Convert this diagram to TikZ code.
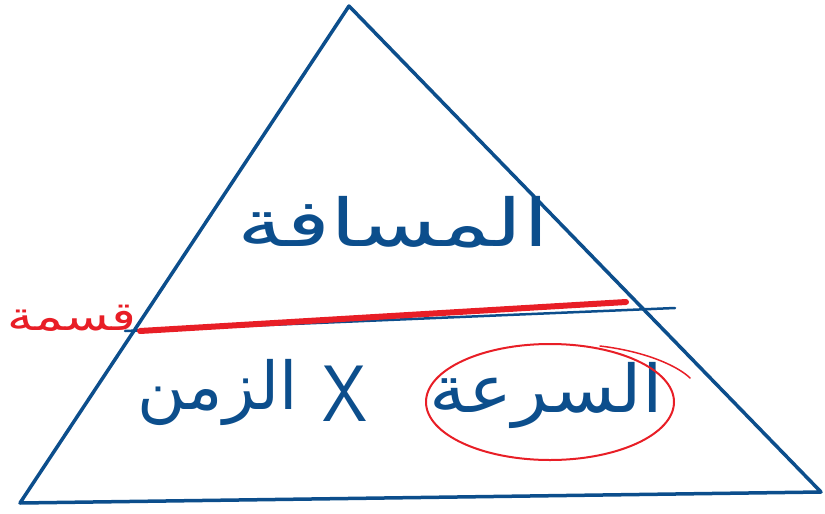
\documentclass[tikz,border=0pt]{standalone}
\usepackage{fontspec}
\newfontfamily\arabicfont[Script=Arabic]{DejaVu Sans}
\TeXXeTstate=1
\definecolor{penblue}{RGB}{12,78,140}
\definecolor{penred}{RGB}{232,30,38}

\begin{document}
\begin{tikzpicture}[x=1pt, y=-1pt, line cap=round, line join=round,
    every node/.style={inner sep=0pt, text=penblue},
    word/.style={font=\arabicfont\fontsize{66}{72}\selectfont}]
                \useasboundingbox (0,0) rectangle (825,514);

                % Hệ tam giác
                \coordinate (apex) at (349,6);
                \coordinate (bl) at (20,503);
                \coordinate (br) at (821,492);
                \draw[penblue, line width=3.5pt] (bl) -- (apex) -- (br) -- cycle;

                % Đường chia
                \coordinate (cutL) at (125,331);
                \coordinate (cutR) at (675,308);
                \draw[penblue, line width=2.5pt] (cutL) -- (cutR);
                \draw[penred, line width=6pt] (140,331) -- (626,302);

                % Chữ
                \node[word, xscale=1.4] (dist) at (393,222) {\beginR المسافة\endR};
                \node[word, xscale=1.12] (speed) at (546,395) {\beginR السرعة\endR};
                \node[font=\sffamily\fontsize{80}{84}\selectfont, xscale=0.9] (cross) at (345,394) {X};
                \node[word] (time) at (218,392) {\beginR الزمن\endR};
                \node[text=penred, font=\arabicfont\fontsize{40}{44}\selectfont, xscale=1.3] (qisma) at (72,318) {\beginR قسمة\endR};

                % Vòng tròn đỏ
                \draw[penred, line width=2pt] (550,402) ellipse (124pt and 58pt);
                \draw[penred, line width=1.5pt] (600,346) .. controls (650,352) and (680,368) .. (690,378);
\end{tikzpicture}
\end{document}
